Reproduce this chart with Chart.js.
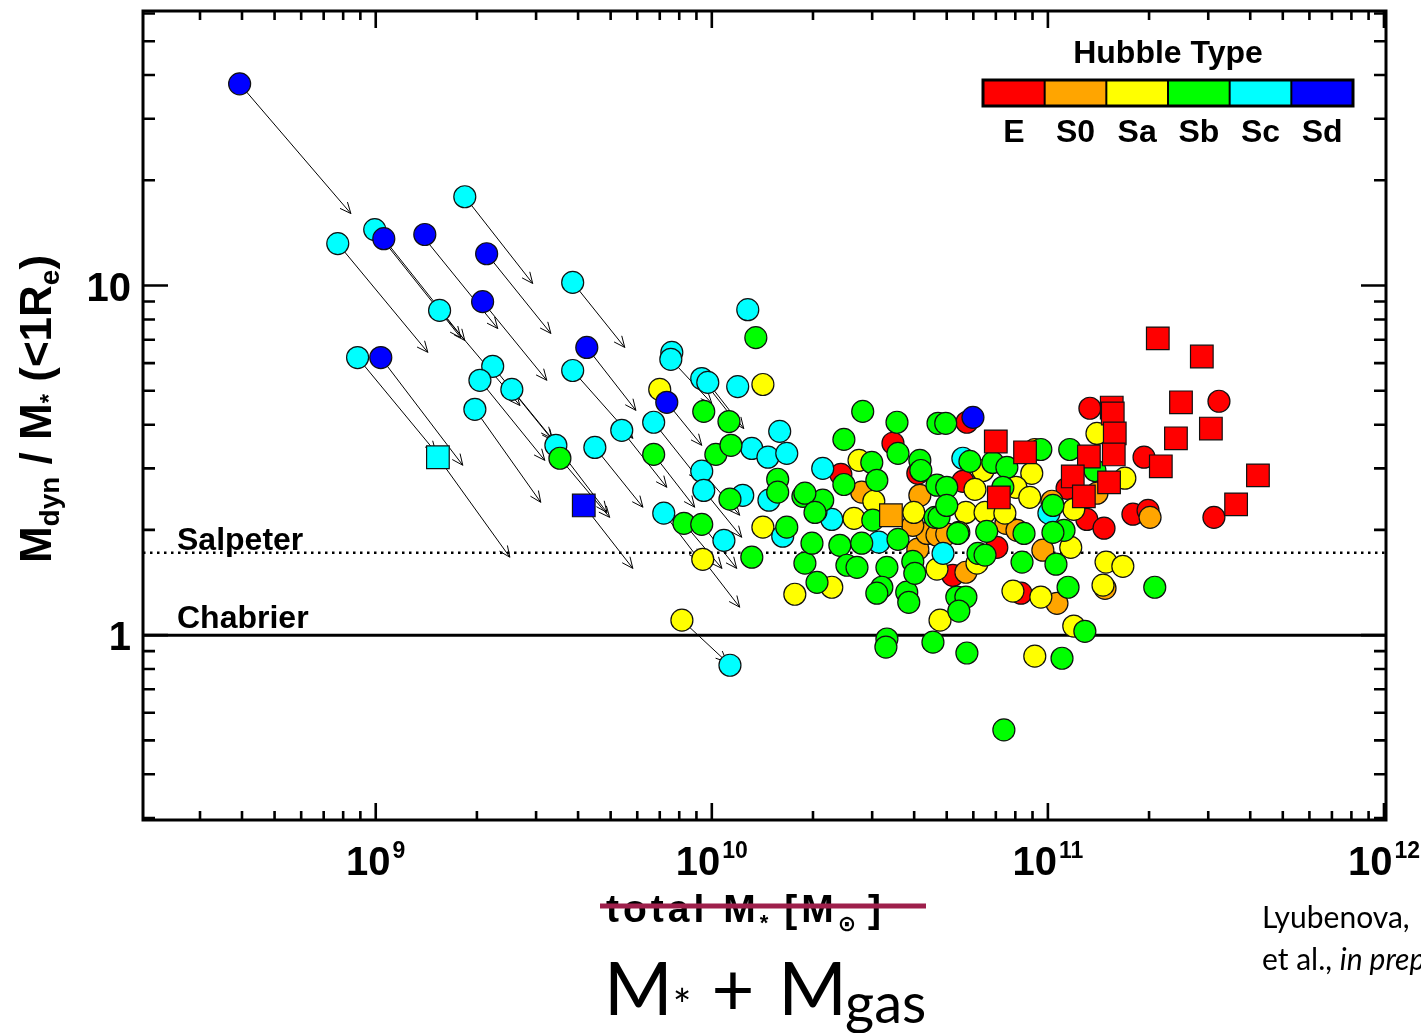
<!DOCTYPE html>
<html>
<head>
<meta charset="utf-8">
<script src="https://cdn.jsdelivr.net/npm/chart.js@4.4.0/dist/chart.umd.min.js"></script>
<style>
  html, body { margin: 0; padding: 0; background: #fff; }
  canvas { display: block; }
</style>
</head>
<body>
<canvas id="massChart" width="1421" height="1033"></canvas>
<script>
// axis ranges
const X_MIN = 2.03e8, X_MAX = 1.014e12;
const Y_MIN = 0.296, Y_MAX = 61;

// IMF reference levels of Mdyn/M*
const SALPETER = 1.72;
const CHABRIER = 1.0;

const hubbleTypes = ["E", "S0", "Sa", "Sb", "Sc", "Sd"];
const typeColors = ["#FF0000", "#FFA500", "#FFFF00", "#00FF00", "#00FFFF", "#0000FF"];

// log10 total mass [Msun] and log10 Mdyn/M* (<1Re), per Hubble type
const eLogMass  = [10.539, 10.384, 10.613, 10.759, 10.747, 11.125, 11.057, 11.116, 10.848, 10.717, 10.920, 11.509, 11.286, 11.167, 11.253, 11.298, 11.494];
const eLogRatio = [0.549, 0.460, 0.463, 0.609, 0.440, 0.649, 0.420, 0.331, 0.251, 0.171, 0.120, 0.669, 0.509, 0.306, 0.346, 0.357, 0.337];

const eSqLogMass  = [11.327, 11.458, 11.396, 11.485, 11.381, 11.336, 11.625, 11.560, 11.190, 11.193, 11.199, 11.196, 11.122, 11.074, 11.182, 11.107, 10.932, 10.845, 10.854];
const eSqLogRatio = [0.849, 0.797, 0.666, 0.591, 0.563, 0.483, 0.457, 0.374, 0.651, 0.634, 0.577, 0.517, 0.511, 0.454, 0.437, 0.397, 0.523, 0.554, 0.394];

const s0LogMass  = [10.446, 10.619, 10.613, 10.640, 10.670, 10.699, 10.598, 10.756, 10.875, 10.908, 10.985, 11.027, 11.012, 10.961, 11.146, 11.304, 11.170];
const s0LogRatio = [0.409, 0.400, 0.246, 0.291, 0.286, 0.289, 0.314, 0.180, 0.320, 0.300, 0.243, 0.091, 0.383, 0.531, 0.406, 0.337, 0.134];

const s0SqLogMass  = [10.533];
const s0SqLogRatio = [0.343];

const saLogMass  = [9.845, 9.973, 9.911, 10.152, 10.152, 10.247, 10.357, 10.438, 10.482, 10.423, 10.601, 10.670, 10.679, 10.807, 10.952, 10.783, 10.905, 10.946, 11.077, 10.756, 10.813, 10.872, 10.735, 11.068, 10.789, 10.896, 10.979, 11.077, 10.961, 11.146, 11.229, 11.173, 11.223, 11.164];
const saLogRatio = [0.703, 0.217, 0.043, 0.717, 0.309, 0.117, 0.137, 0.500, 0.383, 0.334, 0.351, 0.189, 0.043, 0.471, 0.463, 0.417, 0.423, 0.394, 0.360, 0.351, 0.351, 0.349, 0.294, 0.251, 0.206, 0.126, 0.109, 0.026, -0.060, 0.577, 0.449, 0.209, 0.197, 0.143];

const sbLogMass  = [9.548, 9.827, 9.917, 9.970, 9.976, 10.051, 10.012, 10.057, 10.054, 10.131, 10.196, 10.196, 10.223, 10.119, 10.277, 10.313, 10.271, 10.310, 10.330, 10.298, 10.381, 10.446, 10.393, 10.449, 10.551, 10.554, 10.393, 10.476, 10.491, 10.619, 10.622, 10.479, 10.554, 10.402, 10.432, 10.521, 10.506, 10.491, 10.580, 10.586, 10.673, 10.670, 10.664, 10.521, 10.518, 10.658, 10.759, 10.696, 10.768, 10.836, 10.878, 10.699, 10.866, 11.015, 10.979, 11.065, 10.277, 10.307, 10.676, 10.699, 10.818, 10.929, 11.048, 10.732, 10.792, 10.813, 10.598, 10.604, 10.923, 11.024, 10.729, 10.756, 10.735, 11.060, 11.110, 11.042, 10.869, 11.318, 11.015, 11.140];
const sbLogRatio = [0.506, 0.517, 0.320, 0.317, 0.640, 0.611, 0.517, 0.543, 0.389, 0.851, 0.446, 0.409, 0.309, 0.223, 0.206, 0.151, 0.397, 0.354, 0.386, 0.263, 0.257, 0.263, 0.560, 0.640, 0.609, 0.520, 0.431, 0.494, 0.443, 0.500, 0.471, 0.329, 0.274, 0.200, 0.194, 0.194, 0.137, 0.120, 0.123, 0.094, 0.606, 0.429, 0.337, -0.011, -0.034, -0.020, -0.051, 0.606, 0.497, 0.494, 0.480, 0.423, 0.423, 0.371, 0.531, 0.531, 0.406, 0.351, 0.337, 0.371, 0.297, 0.291, 0.300, 0.291, 0.234, 0.229, 0.211, 0.177, 0.209, 0.203, 0.109, 0.109, 0.069, 0.137, 0.011, -0.066, -0.271, 0.137, 0.294, 0.471];

const scLogMass  = [8.887, 8.997, 9.265, 9.190, 9.586, 8.946, 9.348, 9.310, 9.405, 9.295, 9.586, 9.536, 9.652, 9.732, 9.827, 9.857, 10.036, 10.054, 9.881, 9.878, 9.970, 9.988, 10.077, 10.107, 10.202, 10.119, 10.167, 10.223, 9.970, 9.976, 10.092, 10.170, 10.211, 10.330, 10.357, 10.497, 10.688, 10.747, 11.003];
const scLogRatio = [1.120, 1.160, 1.254, 0.929, 1.009, 0.794, 0.769, 0.729, 0.703, 0.646, 0.757, 0.543, 0.537, 0.586, 0.609, 0.349, 0.271, -0.086, 0.809, 0.789, 0.734, 0.723, 0.711, 0.931, 0.583, 0.534, 0.509, 0.520, 0.469, 0.414, 0.400, 0.386, 0.283, 0.477, 0.331, 0.266, 0.234, 0.506, 0.349];

const scSqLogMass  = [9.185];
const scSqLogRatio = [0.509];

const sdLogMass  = [8.595, 9.024, 9.146, 9.330, 9.318, 9.015, 9.628, 9.866, 10.777];
const sdLogRatio = [1.577, 1.134, 1.146, 1.091, 0.954, 0.794, 0.823, 0.666, 0.623];

const sdSqLogMass  = [9.619];
const sdSqLogRatio = [0.371];

// gas correction: M* -> M* + Mgas, start and end of each arrow (log10)
const arrowLogMass0  = [8.595, 9.265, 8.887, 8.997, 9.024, 9.146, 9.330, 9.190, 9.318, 9.586, 8.946, 9.015, 9.185, 9.295, 9.310, 9.348, 9.405, 9.628, 9.586, 9.536, 9.548, 9.619, 9.652, 9.732, 9.827, 9.866, 9.878, 9.970, 9.988, 9.827, 9.917, 9.970, 9.973, 9.911, 9.970, 9.976, 9.857];
const arrowLogRatio0 = [1.577, 1.254, 1.120, 1.160, 1.134, 1.134, 1.091, 0.929, 0.954, 1.009, 0.794, 0.794, 0.509, 0.646, 0.729, 0.769, 0.703, 0.823, 0.757, 0.543, 0.506, 0.371, 0.537, 0.586, 0.517, 0.666, 0.789, 0.734, 0.723, 0.609, 0.320, 0.317, 0.217, 0.043, 0.469, 0.414, 0.349];
const arrowLogMass1  = [8.926, 9.467, 9.155, 9.253, 9.265, 9.363, 9.521, 9.429, 9.509, 9.741, 9.179, 9.259, 9.399, 9.491, 9.503, 9.527, 9.524, 9.774, 9.765, 9.688, 9.696, 9.765, 9.795, 9.866, 9.949, 9.970, 10.000, 10.077, 10.095, 9.964, 10.030, 10.074, 10.083, 10.045, 10.083, 10.089, 9.964];
const arrowLogRatio1 = [1.206, 1.006, 0.809, 0.851, 0.843, 0.877, 0.863, 0.657, 0.729, 0.823, 0.523, 0.486, 0.223, 0.380, 0.500, 0.557, 0.563, 0.643, 0.563, 0.351, 0.337, 0.191, 0.366, 0.423, 0.366, 0.543, 0.663, 0.603, 0.591, 0.443, 0.191, 0.191, 0.080, -0.077, 0.343, 0.280, 0.214];

const SANS = "'Liberation Sans', Arial, Helvetica, sans-serif";
const HUMANIST = "Lato, 'Open Sans', sans-serif";

function toPoints(logMass, logRatio) {
    return logMass.map((m, i) => ({ x: Math.pow(10, m), y: Math.pow(10, logRatio[i]) }));
}

function typeSet(label, colorIdx, logMass, logRatio, square, order) {
    return {
        label,
        data: toPoints(logMass, logRatio),
        pointStyle: square ? "rect" : "circle",
        pointRadius: square ? 16 : 11,
        pointHoverRadius: square ? 16 : 11,
        pointBackgroundColor: typeColors[colorIdx],
        pointBorderColor: "#111",
        pointBorderWidth: 1.2,
        order,
        clip: false
    };
}

// IMF lines, drawn under the points
const imfLines = {
    id: "imfLines",
    beforeDatasetsDraw(chart) {
        const { ctx, chartArea: a, scales: { y } } = chart;
        ctx.save();
        ctx.strokeStyle = "#000";

        const ys = y.getPixelForValue(SALPETER);
        ctx.lineWidth = 2.5;
        ctx.setLineDash([2.5, 4.5]);
        ctx.beginPath();
        ctx.moveTo(a.left, ys);
        ctx.lineTo(a.right, ys);
        ctx.stroke();

        const yc = y.getPixelForValue(CHABRIER);
        ctx.setLineDash([]);
        ctx.lineWidth = 3;
        ctx.beginPath();
        ctx.moveTo(a.left, yc);
        ctx.lineTo(a.right, yc);
        ctx.stroke();

        ctx.fillStyle = "#000";
        ctx.font = "bold 32px " + SANS;
        ctx.textAlign = "left";
        ctx.textBaseline = "alphabetic";
        ctx.fillText("Salpeter", a.left + 34, ys - 3);
        ctx.fillText("Chabrier", a.left + 34, yc - 7);
        ctx.restore();
    }
};

// thin arrows with open heads
const gasArrows = {
    id: "gasArrows",
    beforeDatasetsDraw(chart) {
        const { ctx, scales: { x, y } } = chart;
        ctx.save();
        ctx.strokeStyle = "#000";
        ctx.lineWidth = 1;
        arrowLogMass0.forEach((m0, i) => {
            const x0 = x.getPixelForValue(Math.pow(10, m0));
            const y0 = y.getPixelForValue(Math.pow(10, arrowLogRatio0[i]));
            const x1 = x.getPixelForValue(Math.pow(10, arrowLogMass1[i]));
            const y1 = y.getPixelForValue(Math.pow(10, arrowLogRatio1[i]));
            const ang = Math.atan2(y1 - y0, x1 - x0);
            const len = 12, spread = 0.42;
            ctx.beginPath();
            ctx.moveTo(x0, y0);
            ctx.lineTo(x1, y1);
            ctx.moveTo(x1 - len * Math.cos(ang - spread), y1 - len * Math.sin(ang - spread));
            ctx.lineTo(x1, y1);
            ctx.lineTo(x1 - len * Math.cos(ang + spread), y1 - len * Math.sin(ang + spread));
            ctx.stroke();
        });
        ctx.restore();
    }
};

function logTicks(min, max) {
    const out = [];
    for (let e = Math.floor(Math.log10(min)); e <= Math.ceil(Math.log10(max)); e++) {
        for (let k = 1; k <= 9; k++) {
            const v = k * Math.pow(10, e);
            if (v >= min * 0.999 && v <= max * 1.001) out.push({ v, major: k === 1, e });
        }
    }
    return out;
}

// write a run of text pieces with different sizes / baseline shifts
function drawPieces(ctx, pieces, x, y) {
    let cx = x;
    pieces.forEach(p => {
        ctx.font = p.font;
        ctx.fillText(p.t, cx, y + (p.dy || 0));
        cx += ctx.measureText(p.t).width + (p.gap || 0);
    });
    return cx;
}

function piecesWidth(ctx, pieces) {
    let w = 0;
    pieces.forEach(p => {
        ctx.font = p.font;
        w += ctx.measureText(p.t).width + (p.gap || 0);
    });
    return w;
}

// box, inward ticks, tick labels, titles and the colour key
const frame = {
    id: "frame",
    afterDraw(chart) {
        const { ctx, chartArea: a, scales: { x, y } } = chart;
        ctx.save();
        ctx.strokeStyle = "#000";
        ctx.fillStyle = "#000";
        ctx.lineWidth = 3;
        ctx.strokeRect(a.left, a.top, a.right - a.left, a.bottom - a.top);

        ctx.lineWidth = 2.6;
        ctx.beginPath();
        logTicks(X_MIN, X_MAX).forEach(t => {
            const px = x.getPixelForValue(t.v);
            const len = t.major ? 17 : 9;
            ctx.moveTo(px, a.bottom); ctx.lineTo(px, a.bottom - len);
            ctx.moveTo(px, a.top); ctx.lineTo(px, a.top + len);
        });
        logTicks(Y_MIN, Y_MAX).forEach(t => {
            const py = y.getPixelForValue(t.v);
            const len = t.major ? 25 : 12;
            ctx.moveTo(a.left, py); ctx.lineTo(a.left + len, py);
            ctx.moveTo(a.right, py); ctx.lineTo(a.right - len, py);
        });
        ctx.stroke();

        // x tick labels 10^n
        ctx.textAlign = "left";
        ctx.textBaseline = "alphabetic";
        logTicks(X_MIN, X_MAX).filter(t => t.major).forEach(t => {
            const pieces = [
                { t: "10", font: "bold 40px " + SANS, gap: 2 },
                { t: String(t.e), font: "bold 23px " + SANS, dy: -17 }
            ];
            const w = piecesWidth(ctx, pieces);
            drawPieces(ctx, pieces, x.getPixelForValue(t.v) - w / 2, a.bottom + 55);
        });

        // y tick labels
        ctx.textAlign = "right";
        ctx.font = "bold 40px " + SANS;
        [1, 10].forEach(v => {
            ctx.fillText(String(v), a.left - 12, y.getPixelForValue(v) + 15);
        });

        // y title, rotated
        ctx.save();
        ctx.translate(51, 409);
        ctx.rotate(-Math.PI / 2);
        ctx.textAlign = "left";
        const yTitle = [
            { t: "M", font: "bold 44px " + SANS },
            { t: "dyn", font: "bold 28px " + SANS, dy: 8 },
            { t: " / M", font: "bold 44px " + SANS },
            { t: "*", font: "bold 24px " + SANS, dy: 6 },
            { t: " (<1R", font: "bold 44px " + SANS },
            { t: "e", font: "bold 28px " + SANS, dy: 8 },
            { t: ")", font: "bold 44px " + SANS }
        ];
        drawPieces(ctx, yTitle, -piecesWidth(ctx, yTitle) / 2, 0);
        ctx.restore();

        // x title, struck through
        ctx.textAlign = "left";
        ctx.letterSpacing = "4px";
        const xTitle = [
            { t: "total M", font: "bold 39px " + SANS, gap: 0 },
            { t: "*", font: "bold 22px " + SANS, dy: 8, gap: 12 },
            { t: "[M", font: "bold 39px " + SANS, gap: 0 },
            { t: "\u2299", font: "bold 22px 'DejaVu Sans', sans-serif", dy: 9, gap: 8 },
            { t: "]", font: "bold 39px " + SANS }
        ];
        drawPieces(ctx, xTitle, 606, 922);
        ctx.letterSpacing = "0px";
        ctx.strokeStyle = "#9E1F4B";
        ctx.lineWidth = 5;
        ctx.beginPath();
        ctx.moveTo(600, 906);
        ctx.lineTo(926, 906);
        ctx.stroke();

        // replacement title
        ctx.fillStyle = "#000";
        const newTitle = [
            { t: "M", font: "74px " + HUMANIST, gap: 0 },
            { t: "*", font: "44px " + HUMANIST, dy: 6, gap: 20 },
            { t: "+", font: "74px " + HUMANIST, gap: 24 },
            { t: "M", font: "74px " + HUMANIST, gap: -2 },
            { t: "gas", font: "56px " + HUMANIST, dy: 8 }
        ];
        drawPieces(ctx, newTitle, 604, 1015);

        // reference note at the right
        ctx.font = "30px " + HUMANIST;
        ctx.fillText("Lyubenova,", 1262, 928);
        const etAl = [
            { t: "et al., ", font: "30px " + HUMANIST },
            { t: "in prep.", font: "italic 30px " + HUMANIST }
        ];
        drawPieces(ctx, etAl, 1262, 970);

        // Hubble type colour key
        const barL = 983, barR = 1353, barT = 80, barB = 106;
        const cellW = (barR - barL) / hubbleTypes.length;
        hubbleTypes.forEach((name, i) => {
            ctx.fillStyle = typeColors[i];
            ctx.fillRect(barL + i * cellW, barT, cellW, barB - barT);
        });
        ctx.strokeStyle = "#000";
        ctx.lineWidth = 2;
        ctx.beginPath();
        for (let i = 1; i < hubbleTypes.length; i++) {
            ctx.moveTo(barL + i * cellW, barT);
            ctx.lineTo(barL + i * cellW, barB);
        }
        ctx.stroke();
        ctx.lineWidth = 3;
        ctx.strokeRect(barL, barT, barR - barL, barB - barT);

        ctx.fillStyle = "#000";
        ctx.textAlign = "center";
        ctx.font = "bold 32px " + SANS;
        ctx.fillText("Hubble Type", (barL + barR) / 2, 63);
        hubbleTypes.forEach((name, i) => {
            ctx.fillText(name, barL + (i + 0.5) * cellW, 142);
        });
        ctx.restore();
    }
};

const datasets = [
    typeSet("E", 0, eSqLogMass, eSqLogRatio, true, 1),
    typeSet("S0", 1, s0SqLogMass, s0SqLogRatio, true, 2),
    typeSet("Sc", 4, scSqLogMass, scSqLogRatio, true, 3),
    typeSet("Sd", 5, sdSqLogMass, sdSqLogRatio, true, 4),
    typeSet("Sd", 5, sdLogMass, sdLogRatio, false, 5),
    typeSet("Sb", 3, sbLogMass, sbLogRatio, false, 6),
    typeSet("Sc", 4, scLogMass, scLogRatio, false, 7),
    typeSet("Sa", 2, saLogMass, saLogRatio, false, 8),
    typeSet("S0", 1, s0LogMass, s0LogRatio, false, 9),
    typeSet("E", 0, eLogMass, eLogRatio, false, 10)
];

new Chart(document.getElementById("massChart").getContext("2d"), {
    type: "scatter",
    data: { datasets },
    options: {
        responsive: false,
        animation: false,
        events: [],
        layout: {
            autoPadding: false,
            padding: { left: 143, top: 11, right: 35, bottom: 213 }
        },
        plugins: {
            legend: { display: false },
            tooltip: { enabled: false }
        },
        scales: {
            x: { type: "logarithmic", min: X_MIN, max: X_MAX, display: false },
            y: { type: "logarithmic", min: Y_MIN, max: Y_MAX, display: false }
        }
    },
    plugins: [imfLines, gasArrows, frame]
});
</script>
</body>
</html>
